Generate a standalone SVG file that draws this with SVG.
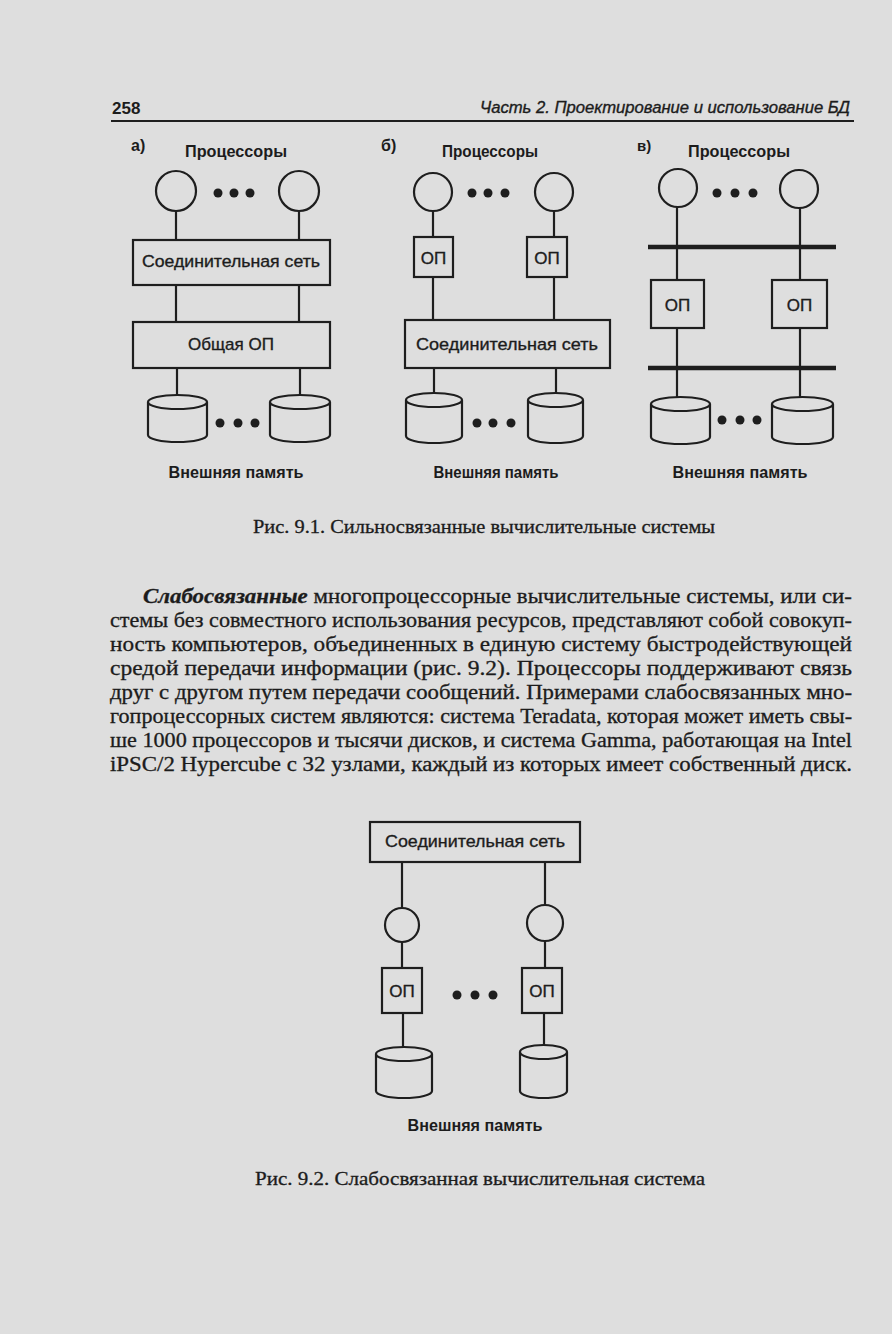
<svg xmlns="http://www.w3.org/2000/svg" width="892" height="1334" viewBox="0 0 892 1334">
<style>
.ln{stroke:#1e1e1e;stroke-width:2.2;fill:none}
.bus{stroke:#1e1e1e;stroke-width:4.5;fill:none}
.bx{stroke:#1e1e1e;stroke-width:2.2;fill:none}
.dot{fill:#1e1e1e}
.cyl{stroke:#1e1e1e;stroke-width:2.2;fill:none}
.t{font-family:"Liberation Sans",Arial,sans-serif;fill:#1c1c1c;stroke:#1c1c1c;stroke-width:0.35}
.tb{font-family:"Liberation Sans",Arial,sans-serif;font-weight:bold;fill:#1c1c1c}
.s{font-family:"Liberation Serif","Times New Roman",serif;fill:#1c1c1c;stroke:#1c1c1c;stroke-width:0.3}
</style>
<rect x="0" y="0" width="892" height="1334" fill="#dedede"/>

<g id="header">
<text class="tb" x="112" y="114" font-size="17">258</text>
<text class="t" x="850" y="113" font-size="16" font-style="italic" text-anchor="end" textLength="370" lengthAdjust="spacingAndGlyphs">Часть 2. Проектирование и использование БД</text>
<line x1="111" y1="121" x2="854" y2="121" stroke="#1e1e1e" stroke-width="2.2"/>
</g>

<!-- Figure 9.1 a -->
<g id="fig-a">
<text class="tb" x="131" y="151" font-size="16">а)</text>
<text class="tb" x="236" y="157" font-size="16" text-anchor="middle" textLength="102" lengthAdjust="spacingAndGlyphs">Процессоры</text>
<g id="a-proc1"><circle class="ln" cx="176" cy="191" r="20"/></g>
<g id="a-proc2"><circle class="ln" cx="299" cy="191" r="20"/></g>
<g id="a-dots1"><circle class="dot" cx="218" cy="193" r="4.5"/><circle class="dot" cx="234" cy="193" r="4.5"/><circle class="dot" cx="250" cy="193" r="4.5"/></g>
<g id="a-net"><rect class="bx" x="133" y="240" width="197" height="45"/><text class="t" x="231" y="267" font-size="17" text-anchor="middle" textLength="178" lengthAdjust="spacingAndGlyphs">Соединительная сеть</text></g>
<g id="a-mem"><rect class="bx" x="133" y="322" width="197" height="46"/><text class="t" x="231" y="350" font-size="17" text-anchor="middle">Общая ОП</text></g>
<g id="a-disk1"><path class="cyl" d="M148,402 A29.5,7 0 0 1 207,402 A29.5,7 0 0 1 148,402 M148,402 V435 A29.5,7 0 0 0 207,435 V402"/></g>
<g id="a-disk2"><path class="cyl" d="M270,402 A30,7 0 0 1 330,402 A30,7 0 0 1 270,402 M270,402 V435 A30,7 0 0 0 330,435 V402"/></g>
<g id="a-dots2"><circle class="dot" cx="220" cy="423" r="4.5"/><circle class="dot" cx="238" cy="423" r="4.5"/><circle class="dot" cx="255" cy="423" r="4.5"/></g>
<text class="tb" x="236" y="478" font-size="16" text-anchor="middle" textLength="135" lengthAdjust="spacingAndGlyphs">Внешняя память</text>
</g>

<!-- Figure 9.1 b -->
<g id="fig-b">
<text class="tb" x="381" y="151" font-size="16">б)</text>
<text class="tb" x="490" y="157" font-size="16" text-anchor="middle" textLength="96" lengthAdjust="spacingAndGlyphs">Процессоры</text>
<g id="b-proc1"><circle class="ln" cx="433" cy="192" r="19"/></g>
<g id="b-proc2"><circle class="ln" cx="554" cy="192" r="19"/></g>
<g id="b-dots1"><circle class="dot" cx="472" cy="193" r="4.5"/><circle class="dot" cx="488" cy="193" r="4.5"/><circle class="dot" cx="505" cy="193" r="4.5"/></g>
<g id="b-mem1"><rect class="bx" x="414" y="237" width="39" height="40"/><text class="t" x="433.5" y="264" font-size="17" text-anchor="middle">ОП</text></g>
<g id="b-mem2"><rect class="bx" x="527" y="237" width="40" height="40"/><text class="t" x="547" y="264" font-size="17" text-anchor="middle">ОП</text></g>
<g id="b-net"><rect class="bx" x="405" y="320" width="205" height="48"/><text class="t" x="507" y="350" font-size="17" text-anchor="middle" textLength="182" lengthAdjust="spacingAndGlyphs">Соединительная сеть</text></g>
<g id="b-disk1"><path class="cyl" d="M406,400 A28,7 0 0 1 462,400 A28,7 0 0 1 406,400 M406,400 V436 A28,7 0 0 0 462,436 V400"/></g>
<g id="b-disk2"><path class="cyl" d="M528,400 A27.5,7 0 0 1 583,400 A27.5,7 0 0 1 528,400 M528,400 V436 A27.5,7 0 0 0 583,436 V400"/></g>
<g id="b-dots2"><circle class="dot" cx="477" cy="423" r="4.5"/><circle class="dot" cx="493" cy="423" r="4.5"/><circle class="dot" cx="511" cy="423" r="4.5"/></g>
<text class="tb" x="496" y="478" font-size="16" text-anchor="middle" textLength="125" lengthAdjust="spacingAndGlyphs">Внешняя память</text>
</g>

<!-- Figure 9.1 c -->
<g id="fig-c">
<text class="tb" x="637" y="151" font-size="15">в)</text>
<text class="tb" x="739" y="157" font-size="16" text-anchor="middle" textLength="102" lengthAdjust="spacingAndGlyphs">Процессоры</text>
<g id="c-proc1"><circle class="ln" cx="678" cy="188" r="19"/></g>
<g id="c-proc2"><circle class="ln" cx="799" cy="189" r="19"/></g>
<g id="c-dots1"><circle class="dot" cx="717" cy="193" r="4.5"/><circle class="dot" cx="735" cy="193" r="4.5"/><circle class="dot" cx="753" cy="193" r="4.5"/></g>
<g id="c-bus1"><line class="bus" x1="648" y1="247" x2="836" y2="247"/></g>
<g id="c-mem1"><rect class="bx" x="651" y="280" width="53" height="48"/><text class="t" x="677.5" y="311" font-size="17" text-anchor="middle">ОП</text></g>
<g id="c-mem2"><rect class="bx" x="772" y="280" width="55" height="48"/><text class="t" x="799.5" y="311" font-size="17" text-anchor="middle">ОП</text></g>
<g id="c-bus2"><line class="bus" x1="648" y1="368" x2="836" y2="368"/></g>
<g id="c-disk1"><path class="cyl" d="M651,404 A29.5,7 0 0 1 710,404 A29.5,7 0 0 1 651,404 M651,404 V437 A29.5,7 0 0 0 710,437 V404"/></g>
<g id="c-disk2"><path class="cyl" d="M772,404 A30.5,7 0 0 1 833,404 A30.5,7 0 0 1 772,404 M772,404 V437 A30.5,7 0 0 0 833,437 V404"/></g>
<g id="c-dots2"><circle class="dot" cx="722" cy="420" r="4.5"/><circle class="dot" cx="740" cy="420" r="4.5"/><circle class="dot" cx="757" cy="420" r="4.5"/></g>
<text class="tb" x="740" y="478" font-size="16" text-anchor="middle" textLength="135" lengthAdjust="spacingAndGlyphs">Внешняя память</text>
</g>

<!-- Figure 9.2 -->
<g id="fig-2">
<g id="f2-net"><rect class="bx" x="370" y="822" width="210" height="40"/><text class="t" x="475" y="847" font-size="17" text-anchor="middle" textLength="180" lengthAdjust="spacingAndGlyphs">Соединительная сеть</text></g>
<g id="f2-proc1"><circle class="ln" cx="402" cy="925" r="17"/></g>
<g id="f2-proc2"><circle class="ln" cx="545" cy="923" r="18"/></g>
<g id="f2-mem1"><rect class="bx" x="382" y="968" width="40" height="45"/><text class="t" x="402" y="997" font-size="17" text-anchor="middle">ОП</text></g>
<g id="f2-mem2"><rect class="bx" x="522" y="968" width="40" height="45"/><text class="t" x="542" y="997" font-size="17" text-anchor="middle">ОП</text></g>
<g id="f2-dots"><circle class="dot" cx="457" cy="995" r="4.5"/><circle class="dot" cx="475" cy="995" r="4.5"/><circle class="dot" cx="493" cy="995" r="4.5"/></g>
<g id="f2-disk1"><path class="cyl" d="M376,1054 A28,7 0 0 1 432,1054 A28,7 0 0 1 376,1054 M376,1054 V1091 A28,7 0 0 0 432,1091 V1054"/></g>
<g id="f2-disk2"><path class="cyl" d="M520,1052 A23.5,7 0 0 1 567,1052 A23.5,7 0 0 1 520,1052 M520,1052 V1091 A23.5,7 0 0 0 567,1091 V1052"/></g>
<text class="tb" x="475" y="1131" font-size="16" text-anchor="middle" textLength="135" lengthAdjust="spacingAndGlyphs">Внешняя память</text>
</g>

<g id="connectors">
<line class="ln" x1="176" y1="211" x2="176" y2="240"/>
<line class="ln" x1="299" y1="211" x2="299" y2="240"/>
<line class="ln" x1="176" y1="285" x2="176" y2="322"/>
<line class="ln" x1="299" y1="285" x2="299" y2="322"/>
<line class="ln" x1="177" y1="368" x2="177" y2="395"/>
<line class="ln" x1="300" y1="368" x2="300" y2="395"/>
<line class="ln" x1="433" y1="211" x2="433" y2="237"/>
<line class="ln" x1="554" y1="211" x2="554" y2="237"/>
<line class="ln" x1="433" y1="277" x2="433" y2="320"/>
<line class="ln" x1="554" y1="277" x2="554" y2="320"/>
<line class="ln" x1="434" y1="368" x2="434" y2="393"/>
<line class="ln" x1="556" y1="368" x2="556" y2="393"/>
<line class="ln" x1="677" y1="207" x2="677" y2="280"/>
<line class="ln" x1="800" y1="208" x2="800" y2="280"/>
<line class="ln" x1="677" y1="328" x2="677" y2="397"/>
<line class="ln" x1="800" y1="328" x2="800" y2="397"/>
<line class="ln" x1="402" y1="862" x2="402" y2="908"/>
<line class="ln" x1="545" y1="862" x2="545" y2="905"/>
<line class="ln" x1="402" y1="942" x2="402" y2="968"/>
<line class="ln" x1="545" y1="941" x2="545" y2="968"/>
<line class="ln" x1="403" y1="1013" x2="403" y2="1047"/>
<line class="ln" x1="544" y1="1013" x2="544" y2="1045"/>
</g>

<g id="caption-1">
<text class="s" x="484" y="533" font-size="19" text-anchor="middle" textLength="462" lengthAdjust="spacingAndGlyphs">Рис. 9.1. Сильносвязанные вычислительные системы</text>
</g>

<g id="paragraph" font-size="20">
<text class="s" x="143" y="603" textLength="709" lengthAdjust="spacingAndGlyphs"><tspan font-weight="bold" font-style="italic">Слабосвязанные</tspan> многопроцессорные вычислительные системы, или си-</text>
<text class="s" x="110" y="627" textLength="742" lengthAdjust="spacingAndGlyphs">стемы без совместного использования ресурсов, представляют собой совокуп-</text>
<text class="s" x="110" y="651" textLength="742" lengthAdjust="spacingAndGlyphs">ность компьютеров, объединенных в единую систему быстродействующей</text>
<text class="s" x="110" y="675" textLength="742" lengthAdjust="spacingAndGlyphs">средой передачи информации (рис. 9.2). Процессоры поддерживают связь</text>
<text class="s" x="110" y="699" textLength="742" lengthAdjust="spacingAndGlyphs">друг с другом путем передачи сообщений. Примерами слабосвязанных мно-</text>
<text class="s" x="110" y="723" textLength="742" lengthAdjust="spacingAndGlyphs">гопроцессорных систем являются: система Teradata, которая может иметь свы-</text>
<text class="s" x="110" y="747" textLength="742" lengthAdjust="spacingAndGlyphs">ше 1000 процессоров и тысячи дисков, и система Gamma, работающая на Intel</text>
<text class="s" x="110" y="771" textLength="742" lengthAdjust="spacingAndGlyphs">iPSC/2 Hypercube с 32 узлами, каждый из которых имеет собственный диск.</text>
</g>

<g id="caption-2">
<text class="s" x="480" y="1185" font-size="19" text-anchor="middle" textLength="450" lengthAdjust="spacingAndGlyphs">Рис. 9.2. Слабосвязанная вычислительная система</text>
</g>
</svg>
